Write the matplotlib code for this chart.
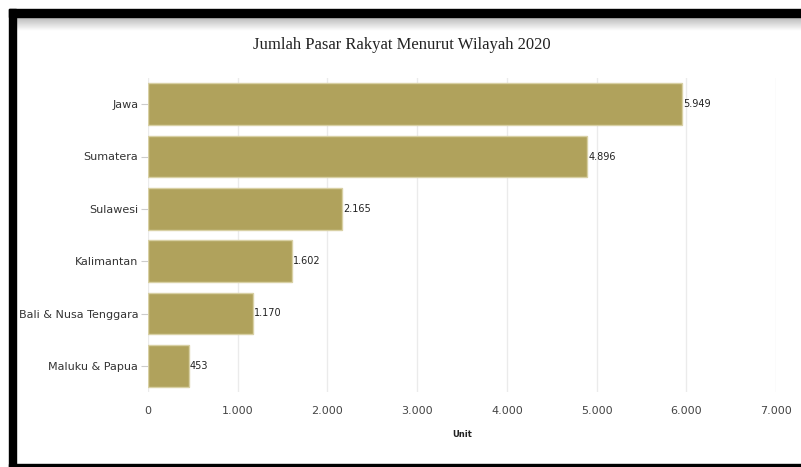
import matplotlib.pyplot as plt
import numpy as np
from matplotlib.patches import Rectangle

regions = ["Jawa", "Sumatera", "Sulawesi", "Kalimantan", "Bali & Nusa Tenggara", "Maluku & Papua"]
counts = [5949, 4896, 2165, 1602, 1170, 453]
count_labels = ["5.949", "4.896", "2.165", "1.602", "1.170", "453"]
xticks = [0, 1000, 2000, 3000, 4000, 5000, 6000, 7000]
xtick_labels = ["0", "1.000", "2.000", "3.000", "4.000", "5.000", "6.000", "7.000"]

W, H = 801, 467
fig = plt.figure(figsize=(W / 100, H / 100), dpi=100)
fig.patch.set_facecolor("white")

ax = fig.add_axes([148 / W, 1 - 392 / H, 628 / W, 314 / H])
ypos = np.arange(len(regions))
ax.barh(ypos, counts, height=0.8, color="#b0a25c", edgecolor="#d8d0a4", linewidth=1, zorder=2)
for y, v, t in zip(ypos, counts, count_labels):
    ax.text(v + 12, y, t, va="center", ha="left", fontsize=7, color="#222222")

ax.set_xlim(0, 7000)
ax.set_ylim(len(regions) - 0.5, -0.5)
ax.set_xticks(xticks)
ax.set_xticklabels(xtick_labels, fontsize=8, color="#444444")
ax.set_yticks(ypos)
ax.set_yticklabels(regions, fontsize=8, color="#333333")
ax.tick_params(axis="x", length=0, pad=10)
ax.tick_params(axis="y", length=5, color="#cccccc", pad=2)
ax.grid(axis="x", color="#ebebeb", linewidth=1, zorder=0)
for s in ax.spines.values():
    s.set_visible(False)
ax.set_xlabel("Unit", fontsize=6, fontweight="bold", color="#222222", labelpad=10)

fig.text(402 / W, 1 - 45 / H, "Jumlah Pasar Rakyat Menurut Wilayah 2020",
         ha="center", va="center", fontsize=12, family="Liberation Serif", color="#222222")

# frame from the screenshot
grad = np.linspace(0.72, 1.0, 50).reshape(-1, 1)
gax = fig.add_axes([17 / W, 1 - 31 / H, (W - 17) / W, 14 / H])
gax.imshow(grad, cmap="gray", aspect="auto", vmin=0, vmax=1)
gax.axis("off")
fig.patches.append(Rectangle((9 / W, 1 - 17 / H), (W - 9) / W, 8 / H,
                             transform=fig.transFigure, color="black", zorder=10))
fig.patches.append(Rectangle((9 / W, 0), 7 / W, 1 - 9 / H,
                             transform=fig.transFigure, color="black", zorder=10))
fig.patches.append(Rectangle((9 / W, 0), (W - 9) / W, 3 / H,
                             transform=fig.transFigure, color="black", zorder=10))

fig.savefig("out.png", dpi=100)
